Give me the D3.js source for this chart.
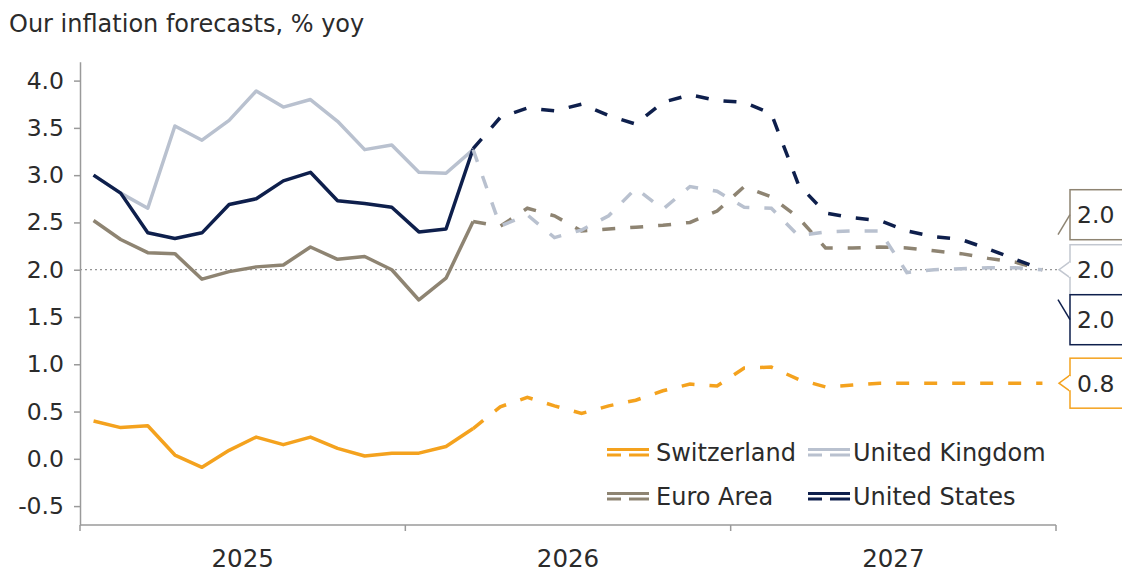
<!DOCTYPE html>
<html><head><meta charset="utf-8">
<script src="https://cdn.jsdelivr.net/npm/d3@7"></script>
<style>
body{margin:0;background:#fff}
svg{display:block}
text{font-family:"DejaVu Sans",Verdana,sans-serif;fill:#2b2b2b}
</style>
</head><body>
<svg id="chart" width="1122" height="574"></svg>
<script>
const months = ["2025-01","2025-02","2025-03","2025-04","2025-05","2025-06","2025-07","2025-08","2025-09","2025-10","2025-11","2025-12",
"2026-01","2026-02","2026-03","2026-04","2026-05","2026-06","2026-07","2026-08","2026-09","2026-10","2026-11","2026-12",
"2027-01","2027-02","2027-03","2027-04","2027-05","2027-06","2027-07","2027-08","2027-09","2027-10","2027-11","2027-12"];
const years = ["2025","2026","2027"];
const yTicks = [-0.5,0,0.5,1,1.5,2,2.5,3,3.5,4];
const lastActual = "2026-03";

const switzerland = [0.40,0.33,0.35,0.04,-0.09,0.09,0.23,0.15,0.23,0.11,0.03,0.06,0.06,0.13,0.32,0.55,0.65,0.56,0.48,0.56,0.62,0.72,0.79,0.77,0.96,0.97,0.84,0.76,0.78,0.80,0.80,0.80,0.80,0.80,0.80,0.80];
const unitedKingdom = [3.00,2.81,2.65,3.52,3.37,3.58,3.89,3.72,3.80,3.57,3.27,3.32,3.03,3.02,3.27,2.46,2.58,2.34,2.42,2.57,2.86,2.64,2.88,2.83,2.66,2.65,2.36,2.40,2.41,2.41,1.97,2.00,2.01,2.02,2.02,2.00];
const euroArea = [2.52,2.32,2.18,2.17,1.90,1.98,2.03,2.05,2.24,2.11,2.14,2.00,1.68,1.91,2.51,2.46,2.65,2.57,2.41,2.43,2.45,2.47,2.50,2.62,2.88,2.77,2.55,2.23,2.23,2.24,2.23,2.20,2.17,2.12,2.08,2.00];
const unitedStates = [3.00,2.81,2.39,2.33,2.39,2.69,2.75,2.94,3.03,2.73,2.70,2.66,2.40,2.43,3.28,3.61,3.71,3.68,3.75,3.63,3.54,3.77,3.85,3.79,3.77,3.65,2.90,2.60,2.55,2.52,2.41,2.35,2.32,2.22,2.11,2.00];

const seriesNames = ["Switzerland","United Kingdom","Euro Area","United States"];
const seriesValues = [switzerland, unitedKingdom, euroArea, unitedStates];
const seriesColors = ["#F4A21E","#B9C1CF","#8E8472","#0E1F4C"];
const endLabels = ["2.0","2.0","2.0","0.8"]; // EA, UK, US, CH

const svg = d3.select("#chart");
const plotL = 80, plotR = 1056, plotT = 61.7, plotB = 525;

const x = d3.scaleBand().domain(months).range([plotL, plotR]);
const xYear = d3.scaleBand().domain(years).range([plotL, plotR]);
const y = d3.scaleLinear().domain([-0.7, 4.2]).range([plotB, plotT]);
const px = m => x(m) + x.bandwidth()/2;

// title
svg.append("text").attr("x", 9).attr("y", 32).attr("font-size", 24).text("Our inflation forecasts, % yoy");

// reference line at 2%
svg.append("line").attr("x1", plotL).attr("x2", 1058).attr("y1", y(2)).attr("y2", y(2))
  .attr("stroke", "#7a7a7a").attr("stroke-width", 1).attr("stroke-dasharray", "2,3");

// y axis
const yAxis = svg.append("g").attr("transform", `translate(${plotL},0)`)
  .call(d3.axisLeft(y).tickValues(yTicks).tickSize(6).tickSizeOuter(0).tickPadding(10)
    .tickFormat(d => d3.format(".1f")(d).replace("\u2212","-")));
yAxis.select(".domain").attr("stroke", "#9a9a9a").attr("stroke-width", 1.5);
yAxis.selectAll(".tick line").attr("stroke", "#9a9a9a").attr("stroke-width", 1.5);
yAxis.selectAll(".tick text").attr("font-size", 23.5).attr("font-family", "DejaVu Sans").attr("fill", "#2b2b2b");

// x axis
const xg = svg.append("g");
xg.append("line").attr("x1", plotL).attr("x2", plotR).attr("y1", plotB).attr("y2", plotB)
  .attr("stroke", "#9a9a9a").attr("stroke-width", 1.5);
const bounds = years.map(yr => xYear(yr)).concat([plotR]);
xg.selectAll("line.yt").data(bounds).join("line").attr("class","yt")
  .attr("x1", d => d).attr("x2", d => d).attr("y1", plotB).attr("y2", plotB + 6)
  .attr("stroke", "#9a9a9a").attr("stroke-width", 1.5);
xg.selectAll("text.yl").data(years).join("text").attr("class","yl")
  .attr("x", d => xYear(d) + xYear.bandwidth()/2).attr("y", 567)
  .attr("text-anchor", "middle").attr("font-size", 24.5).text(d => d);

// lines
const split = months.indexOf(lastActual);
const line = d3.line().x(d => px(d.m)).y(d => y(d.v));
const order = [0, 2, 1, 3];
order.forEach(si => {
  const pts = months.map((m, i) => ({m, v: seriesValues[si][i]}));
  svg.append("path").datum(pts.slice(0, split + 1)).attr("d", line)
    .attr("fill", "none").attr("stroke", seriesColors[si]).attr("stroke-width", 3.5)
    .attr("stroke-linejoin", "round");
});
order.forEach(si => {
  const pts = months.map((m, i) => ({m, v: seriesValues[si][i]}));
  svg.append("path").datum(pts.slice(split)).attr("d", line)
    .attr("fill", "none").attr("stroke", seriesColors[si]).attr("stroke-width", 3.5)
    .attr("stroke-dasharray", "13,15");
});

// legend
const legendPos = [[607, 452], [808, 452], [607, 496], [808, 496]];
const legendOrder = [0, 1, 2, 3];
legendOrder.forEach((si, k) => {
  const [lx, ly] = legendPos[k];
  const g = svg.append("g").attr("transform", `translate(${lx},${ly})`);
  g.append("line").attr("x1", 0).attr("x2", 42).attr("y1", -2.5).attr("y2", -2.5)
    .attr("stroke", seriesColors[si]).attr("stroke-width", 3);
  g.append("line").attr("x1", 0).attr("x2", 14).attr("y1", 3).attr("y2", 3)
    .attr("stroke", seriesColors[si]).attr("stroke-width", 3);
  g.append("line").attr("x1", 22).attr("x2", 42).attr("y1", 3).attr("y2", 3)
    .attr("stroke", seriesColors[si]).attr("stroke-width", 3);
  g.append("text").attr("x", lx < 700 ? 49 : 45).attr("y", 8.5).attr("font-size", 24).text(seriesNames[si]);
});

// end labels: EA (above), UK (at 2.0), US (below), CH (at its value)
const boxX = 1070, boxH = 50, boxW = 70;
const labelDefs = [
  {si: 2, cy: y(2) - 55, kind: "leader", from: [1058, y(2) - 35], to: [boxX, y(2) - 55]},
  {si: 1, cy: y(2), kind: "arrow"},
  {si: 3, cy: y(2) + 50, kind: "leader", from: [1058, y(2) + 30], to: [boxX, y(2) + 50]},
  {si: 0, cy: y(switzerland[switzerland.length - 1]), kind: "arrow"}
];
labelDefs.forEach((d, k) => {
  const c = seriesColors[d.si];
  const stroke = d.si === 1 ? "#C2C7D0" : c;
  svg.append("rect").attr("x", boxX).attr("y", d.cy - boxH/2).attr("width", boxW).attr("height", boxH)
    .attr("fill", "#fff").attr("stroke", stroke).attr("stroke-width", 1.5);
  if (d.kind === "arrow") {
    svg.append("path").attr("d", `M${boxX},${d.cy-8} L${boxX-11},${d.cy} L${boxX},${d.cy+8}`)
      .attr("fill", "#fff").attr("stroke", stroke).attr("stroke-width", 1.5);
    svg.append("line").attr("x1", boxX).attr("x2", boxX).attr("y1", d.cy-7).attr("y2", d.cy+7)
      .attr("stroke", "#fff").attr("stroke-width", 2);
  } else {
    svg.append("line").attr("x1", d.from[0]).attr("y1", d.from[1]).attr("x2", d.to[0]).attr("y2", d.to[1])
      .attr("stroke", stroke).attr("stroke-width", 1.5);
  }
  svg.append("text").attr("x", 1077).attr("y", d.cy + 8.5).attr("font-size", 23.5).text(endLabels[k]);
});
</script>
</body></html>
